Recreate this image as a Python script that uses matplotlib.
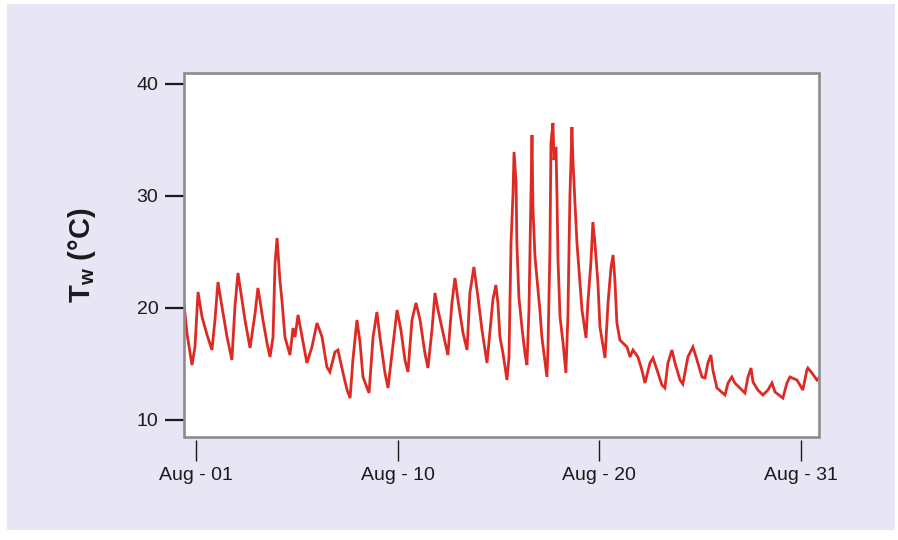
import matplotlib
matplotlib.use("Agg")
import matplotlib.pyplot as plt
from matplotlib.patches import Rectangle

plt.rcParams['font.family'] = ['Liberation Sans', 'DejaVu Sans']

# day offset from Aug-01 (ticks are drawn equally spaced), water temperature in degC
day = [-0.59, -0.45, -0.20, -0.05, 0.05, 0.10, 0.30, 0.55, 0.79, 0.94,
       1.09, 1.29, 1.54, 1.78, 1.93, 2.08, 2.28, 2.43, 2.68, 2.93,
       3.07, 3.17, 3.32, 3.52, 3.67, 3.82, 3.92, 4.02, 4.16, 4.26,
       4.41, 4.66, 4.81, 4.91, 5.06, 5.26, 5.50, 5.75, 6.00, 6.25,
       6.49, 6.64, 6.89, 7.04, 7.29, 7.49, 7.64, 7.78, 7.98, 8.13,
       8.28, 8.58, 8.78, 8.97, 9.12, 9.37, 9.52, 9.72, 9.97, 10.16,
       10.36, 10.51, 10.71, 10.91, 11.11, 11.35, 11.50, 11.70, 11.85, 12.00,
       12.25, 12.49, 12.69, 12.84, 12.99, 13.24, 13.44, 13.58, 13.78, 13.98,
       14.18, 14.43, 14.58, 14.68, 14.72, 14.87, 14.97, 15.07, 15.22, 15.42,
       15.52, 15.62, 15.72, 15.77, 15.87, 15.91, 16.01, 16.16, 16.31, 16.41,
       16.51, 16.61, 16.66, 16.71, 16.81, 17.05, 17.15, 17.40, 17.45, 17.55,
       17.60, 17.70, 17.75, 17.85, 17.90, 17.95, 18.05, 18.20, 18.34, 18.44,
       18.54, 18.64, 18.69, 18.79, 18.89, 19.04, 19.14, 19.34, 19.43, 19.58,
       19.68, 19.78, 19.93, 20.03, 20.28, 20.43, 20.58, 20.68, 20.77, 20.87,
       21.02, 21.37, 21.52, 21.67, 21.91, 22.11, 22.26, 22.51, 22.66, 22.86,
       23.10, 23.25, 23.40, 23.60, 23.75, 24.00, 24.14, 24.39, 24.64, 24.84,
       25.09, 25.24, 25.38, 25.53, 25.63, 25.83, 26.23, 26.38, 26.57, 26.72,
       27.07, 27.22, 27.37, 27.52, 27.62, 27.86, 28.11, 28.36, 28.56, 28.71,
       29.10, 29.30, 29.45, 29.80, 30.09, 30.29, 30.34, 30.54, 30.79, 30.89]
tw = [20.27, 17.77, 14.91, 16.52, 19.82, 21.43, 19.20, 17.59, 16.25, 18.93,
      22.32, 20.09, 17.41, 15.36, 20.09, 23.13, 20.71, 18.93, 16.43, 19.55,
      21.79, 20.71, 18.93, 16.88, 15.63, 17.41, 24.02, 26.25, 22.50, 20.71,
      17.41, 15.80, 18.21, 17.41, 19.38, 17.41, 15.09, 16.52, 18.66, 17.41,
      14.73, 14.29, 16.07, 16.25, 14.20, 12.68, 11.96, 15.36, 18.93, 16.96,
      13.84, 12.41, 17.41, 19.64, 17.41, 14.20, 12.86, 15.98, 19.82, 18.04,
      15.36, 14.29, 18.93, 20.45, 18.93, 15.98, 14.64, 18.04, 21.34, 19.82,
      17.77, 15.80, 20.45, 22.68, 20.71, 17.77, 16.25, 21.34, 23.66, 20.98,
      18.04, 15.09, 18.04, 20.09, 20.71, 22.05, 20.45, 17.41, 15.98, 13.57,
      15.63, 25.80, 30.27, 33.93, 31.16, 25.80, 20.98, 18.30, 15.98, 14.91,
      19.82, 30.27, 35.45, 28.75, 24.55, 19.82, 17.41, 13.84, 16.25, 25.18,
      34.73, 36.52, 33.21, 34.38, 29.91, 24.29, 19.20, 16.88, 14.20, 19.20,
      29.91, 36.16, 33.21, 29.38, 25.80, 22.23, 19.82, 17.32, 20.45, 24.02,
      27.68, 25.80, 22.23, 18.30, 15.54, 20.45, 23.66, 24.73, 22.50, 18.66,
      17.14, 16.52, 15.63, 16.25, 15.63, 14.46, 13.30, 15.09, 15.54, 14.46,
      13.13, 12.86, 15.09, 16.25, 15.09, 13.57, 13.21, 15.63, 16.52, 15.36,
      13.84, 13.75, 15.09, 15.80, 14.46, 12.86, 12.23, 13.30, 13.84, 13.30,
      12.68, 12.41, 13.84, 14.64, 13.39, 12.68, 12.23, 12.68, 13.30, 12.50,
      11.96, 13.30, 13.84, 13.57, 12.68, 14.46, 14.64, 14.20, 13.57, 13.75]

x_ticks = [0, 10, 20, 30]
x_labels = ['Aug - 01', 'Aug - 10', 'Aug - 20', 'Aug - 31']
y_ticks = [10, 20, 30, 40]

fig = plt.figure(figsize=(8.98, 5.40), dpi=100)
fig.patch.set_facecolor('white')
# lavender panel behind the chart
fig.patches.append(Rectangle((7 / 898, 1 - 530 / 540), 888 / 898, 526 / 540,
                             transform=fig.transFigure, facecolor='#e8e5f4',
                             edgecolor='none', zorder=-10))

ax = fig.add_axes([0.2049, 0.1907, 0.7071, 0.6741])
ax.set_facecolor('white')
ax.plot(day, tw, color='#dd2a24', lw=2.0, solid_joinstyle='miter')

ax.set_xlim(-0.595, 30.89)
ax.set_ylim(8.48, 40.98)

for s in ax.spines.values():
    s.set_visible(False)
# gray frame drawn as a patch so the x ticks can sit a little below it
ax.add_patch(Rectangle((0, 0), 1, 1, transform=ax.transAxes, fill=False,
                       edgecolor='#8c8c8c', lw=1.9, clip_on=False, zorder=5))
ax.spines['bottom'].set_position(('outward', 2.5))

ax.set_xticks(x_ticks)
ax.set_xticklabels(x_labels)
ax.set_yticks(y_ticks)
ax.tick_params(axis='x', length=15, width=1.0, color='#1a1a1a', pad=4,
               labelsize=14, labelcolor='#1a1a1a')
ax.tick_params(axis='y', length=13.5, width=1.6, color='#1a1a1a', pad=5,
               labelsize=14, labelcolor='#1a1a1a')

ax.set_ylabel(r'T$_\mathregular{w}$ (°C)', fontsize=21, fontweight='bold',
              color='#1a1a1a', labelpad=28)

fig.savefig('out.png', dpi=100)
